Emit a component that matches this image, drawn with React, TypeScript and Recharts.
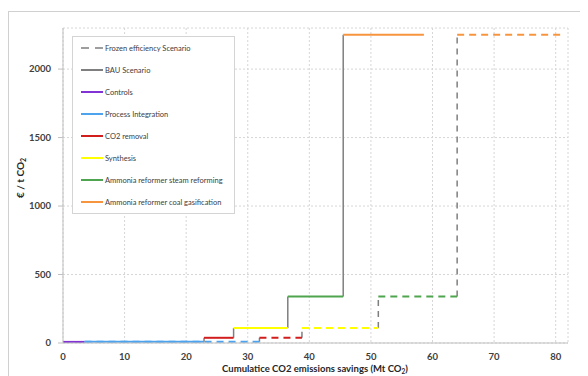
import { LineChart, Line, XAxis, YAxis, CartesianGrid, Legend, Label } from 'recharts';

// abatement measures, in merit order
const MEASURES = [
  'Controls',
  'Process Integration',
  'CO2 removal',
  'Synthesis',
  'Ammonia reformer steam reforming',
  'Ammonia reformer coal gasification',
];
const MEASURE_COLORS = ['#8233d6', '#4ea3ef', '#d21d1d', '#ffff00', '#4fa54f', '#f7953f'];
// €/t CO2
const COSTS = [8, 9, 38, 110, 340, 2250];
// cumulative savings (Mt CO2) at the edges of each step
const BAU_EDGES = [0, 3.5, 22.9, 27.7, 36.5, 45.5, 58.6];
const FROZEN_EDGES = [0, 3.5, 31.9, 38.8, 51.2, 64.0, 81.0];

const X_TICKS = [0, 10, 20, 30, 40, 50, 60, 70, 80];
const Y_TICKS = [0, 500, 1000, 1500, 2000];

const GRAY = '#7f7f7f';
const FONT = 'Lato, "Open Sans", sans-serif';
const DASH = '7 5';

const steps = (edges: number[]) =>
  COSTS.map((c, i) => [
    { x: edges[i], y: c },
    { x: edges[i + 1], y: c },
  ]);

const risers = (edges: number[]) =>
  COSTS.slice(1).map((c, i) => [
    { x: edges[i + 1], y: COSTS[i] },
    { x: edges[i + 1], y: c },
  ]);

function LegendBox() {
  const rows = [
    { label: 'Frozen efficiency Scenario', color: GRAY, dash: '8 6', w: 1.5 },
    { label: 'BAU Scenario', color: GRAY, dash: undefined, w: 2 },
    ...MEASURES.map((m, i) => ({ label: m, color: MEASURE_COLORS[i], dash: undefined, w: 2 })),
  ];
  return (
    <div
      style={{
        width: 161,
        height: 176,
        background: '#fff',
        border: '1px solid #d4d4d4',
        fontFamily: FONT,
        fontSize: 7.5,
        color: '#404040',
      }}
    >
      {rows.map(r => (
        <div key={r.label} style={{ height: 22, display: 'flex', alignItems: 'center' }}>
          <svg width={32} height={6} style={{ flex: 'none' }}>
            <line x1={8} x2={30} y1={3} y2={3} stroke={r.color} strokeWidth={r.w} strokeDasharray={r.dash} />
          </svg>
          <span style={{ whiteSpace: 'nowrap' }}>{r.label}</span>
        </div>
      ))}
    </div>
  );
}

export default function App() {
  const bauSteps = steps(BAU_EDGES);
  const frozenSteps = steps(FROZEN_EDGES);
  const bauRisers = risers(BAU_EDGES);
  const frozenRisers = risers(FROZEN_EDGES);

  const tick = { fontSize: 9.5, fontWeight: 700, fill: '#404040', fontFamily: FONT };

  return (
    <div style={{ position: 'relative', width: 580, height: 368, overflow: 'hidden' }}>
      <div
        style={{
          position: 'absolute', left: 0, top: 3, width: 700, height: 500,
          border: '1px solid #d0d0d0', boxSizing: 'border-box',
        }}
      />
      <div style={{ position: 'absolute', left: 0, top: 0 }}>
        <LineChart width={580} height={368} margin={{ top: 20, right: 20, left: 0, bottom: 0 }}>
          <CartesianGrid stroke="#d6d6d6" strokeDasharray="2 2" />
          <XAxis
            dataKey="x"
            type="number"
            domain={[0, 82]}
            ticks={X_TICKS}
            allowDataOverflow
            height={33}
            stroke="#bfbfbf"
            tickLine={false}
            tickSize={5}
            tickMargin={5}
            tick={tick}
          >
            <Label
              content={() => (
                <text x={307} y={364} textAnchor="middle" fontFamily={FONT} fontSize={9.5} fontWeight={700} fill="#262626">
                  Cumulatice CO2 emissions savings (Mt CO
                  <tspan fontSize={6.5} dy={1.5}>2</tspan>
                  <tspan dy={-1.5}>)</tspan>
                </text>
              )}
            />
          </XAxis>
          <YAxis
            type="number"
            domain={[0, 2300]}
            ticks={Y_TICKS}
            allowDataOverflow
            width={55}
            stroke="#bfbfbf"
            tickSize={5}
            tickMargin={7}
            tick={tick}
          >
            <Label
              content={() => (
                <text
                  x={16}
                  y={170}
                  transform="rotate(-90 16 170)"
                  textAnchor="middle"
                  fontFamily={FONT}
                  fontSize={10}
                  fontWeight={700}
                  fill="#262626"
                >
                  € / t CO
                  <tspan fontSize={7} dy={2}>2</tspan>
                </text>
              )}
            />
          </YAxis>
          <Legend
            layout="vertical"
            align="center"
            verticalAlign="middle"
            wrapperStyle={{ left: 64, top: 28, width: 163, height: 178 }}
            content={() => <LegendBox />}
          />

          {/* frozen efficiency scenario */}
          {frozenRisers.map((d, i) => (
            <Line
              key={`fr-${i}`}
              data={d}
              dataKey="y"
              stroke={GRAY}
              strokeWidth={1.5}
              strokeDasharray="6 5"
              dot={false}
              activeDot={false}
              legendType="none"
              isAnimationActive={false}
            />
          ))}
          {frozenSteps.map((d, i) => (
            <Line
              key={`fs-${i}`}
              data={d}
              dataKey="y"
              stroke={MEASURE_COLORS[i]}
              strokeWidth={2}
              strokeDasharray={DASH}
              dot={false}
              activeDot={false}
              legendType="none"
              isAnimationActive={false}
            />
          ))}

          {/* BAU scenario */}
          {bauRisers.map((d, i) => (
            <Line
              key={`br-${i}`}
              data={d}
              dataKey="y"
              stroke={GRAY}
              strokeWidth={1.5}
              dot={false}
              activeDot={false}
              legendType="none"
              isAnimationActive={false}
            />
          ))}
          {bauSteps.map((d, i) => (
            <Line
              key={`bs-${i}`}
              data={d}
              dataKey="y"
              stroke={MEASURE_COLORS[i]}
              strokeWidth={2}
              dot={false}
              activeDot={false}
              legendType="none"
              isAnimationActive={false}
            />
          ))}
        </LineChart>
      </div>
    </div>
  );
}
